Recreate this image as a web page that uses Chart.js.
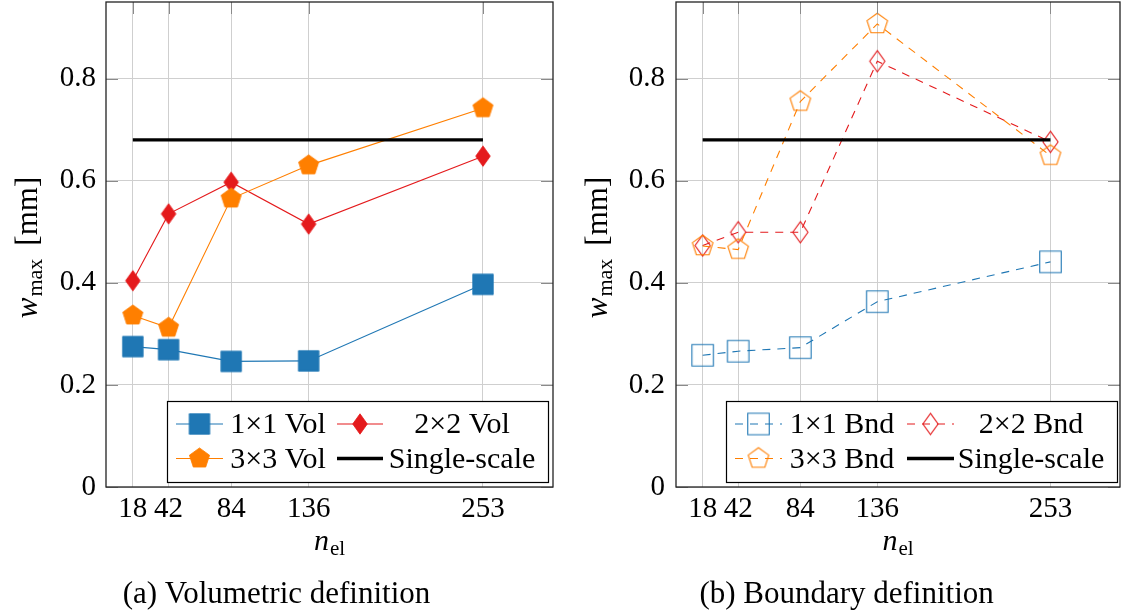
<!DOCTYPE html>
<html><head><meta charset="utf-8">
<script src="https://cdn.jsdelivr.net/npm/chart.js@4.4.1/dist/chart.umd.min.js"></script>
<style>
html,body{margin:0;padding:0;background:#fff;}
#wrap{position:relative;width:1121px;height:615px;overflow:hidden;background:#fff;}
canvas{position:absolute;top:0;}
</style></head><body>
<div id="wrap">
<canvas id="c1" width="560" height="615" style="left:0"></canvas>
<canvas id="c2" width="561" height="615" style="left:560px"></canvas>
</div>
<script>
// ---- data ----
const nEl = [18, 42, 84, 136, 253];
const xTicks = [18, 42, 84, 136, 253];
const xTickLabels = ['18', '42', '84', '136', '253'];
const yTicks = [0, 0.2, 0.4, 0.6, 0.8];
const yTickLabels = ['0', '0.2', '0.4', '0.6', '0.8'];
const vol1x1 = [0.275, 0.269, 0.246, 0.247, 0.397];
const vol2x2 = [0.404, 0.535, 0.597, 0.515, 0.648];
const vol3x3 = [0.336, 0.312, 0.565, 0.630, 0.742];
const bnd1x1 = [0.258, 0.266, 0.273, 0.363, 0.441];
const bnd2x2 = [0.473, 0.499, 0.499, 0.834, 0.676];
const bnd3x3 = [0.472, 0.465, 0.755, 0.907, 0.649];
const singleX = [18, 253];
const singleScale = [0.680, 0.680];

// ---- styles ----
const BLUE = '#1f77b4', RED = '#e41a1c', ORANGE = '#ff7f00';
const FONT = '"Liberation Serif", "Times New Roman", serif';
const toXY = (xs, ys) => xs.map((x, i) => ({x: x, y: ys[i]}));

function mk(w, h, draw) {
  const c = document.createElement('canvas');
  c.width = w; c.height = h;
  draw(c.getContext('2d'), w / 2, h / 2);
  return c;
}
function square(side, fill, stroke, lw) {
  const s = Math.ceil(side + lw + 2);
  return mk(s, s, (g, cx, cy) => {
    g.beginPath(); g.rect(cx - side / 2, cy - side / 2, side, side);
    if (fill) { g.fillStyle = fill; g.fill(); }
    g.lineWidth = lw; g.strokeStyle = stroke; g.stroke();
  });
}
function diamond(a, b, fill, stroke, lw) {
  const w = Math.ceil(2 * a + lw + 2), h = Math.ceil(2 * b + lw + 2);
  return mk(w, h, (g, cx, cy) => {
    g.beginPath(); g.moveTo(cx, cy - b); g.lineTo(cx + a, cy); g.lineTo(cx, cy + b); g.lineTo(cx - a, cy); g.closePath();
    if (fill) { g.fillStyle = fill; g.fill(); }
    g.lineWidth = lw; g.strokeStyle = stroke; g.lineJoin = 'miter'; g.stroke();
  });
}
function pentagon(R, fill, stroke, lw) {
  const s = Math.ceil(2 * R + lw + 3);
  return mk(s, s, (g, cx, cy) => {
    g.beginPath();
    for (let k = 0; k < 5; k++) {
      const t = -Math.PI / 2 + k * 2 * Math.PI / 5;
      const px = cx + R * Math.cos(t), py = cy + R * Math.sin(t);
      if (k === 0) g.moveTo(px, py); else g.lineTo(px, py);
    }
    g.closePath();
    if (fill) { g.fillStyle = fill; g.fill(); }
    g.lineWidth = lw; g.strokeStyle = stroke; g.stroke();
  });
}

const mSqF = square(20.5, BLUE, BLUE, 0.8);
const mDiF = diamond(7.3, 10.2, RED, RED, 0.8);
const mPeF = pentagon(10.6, ORANGE, ORANGE, 0.8);
const mSqO = square(21.5, null, BLUE, 1.1);
const mDiO = diamond(7.6, 10.6, null, RED, 1.1);
const mPeO = pentagon(10.8, null, ORANGE, 1.1);

function ds(label, data, color, marker, dash, order) {
  return {label, data, borderColor: color, backgroundColor: color, borderWidth: 1.1,
    borderDash: dash, pointStyle: marker, pointRadius: 10, pointHoverRadius: 10,
    tension: 0, fill: false, order: order, clip: false};
}
function singleDs(order) {
  return {label: 'Single-scale', data: toXY(singleX, singleScale), borderColor: '#000',
    borderWidth: 3.4, pointRadius: 0, tension: 0, fill: false, order: order};
}

function drawSubText(ctx, x, y, main, sub, rest, size) {
  // centred at x, baseline y
  const fMain = 'italic ' + size + 'px ' + FONT, fSub = Math.round(size * 0.7) + 'px ' + FONT, fRest = size + 'px ' + FONT;
  ctx.font = fMain; const w1 = ctx.measureText(main).width;
  ctx.font = fSub; const w2 = ctx.measureText(sub).width;
  ctx.font = fRest; const w3 = rest ? ctx.measureText(rest).width : 0;
  const gap = rest ? 13 : 0;
  let cx = x - (w1 + 1 + w2 + gap + w3) / 2;
  ctx.textAlign = 'left'; ctx.textBaseline = 'alphabetic'; ctx.fillStyle = '#000';
  ctx.font = fMain; ctx.fillText(main, cx, y); cx += w1 + 1;
  ctx.font = fSub; ctx.fillText(sub, cx, y + 5); cx += w2 + gap;
  if (rest) { ctx.font = fRest; ctx.fillText(rest, cx, y); }
}

function makeChart(id, datasets, cfg) {
  const decor = {
    id: 'decor',
    afterDatasetsDraw(chart) {
      const ctx = chart.ctx, a = chart.chartArea;
      const xs = chart.scales.x, ys = chart.scales.y;
      ctx.save();
      // tick marks (inward)
      ctx.strokeStyle = '#8a8a8a'; ctx.lineWidth = 1;
      yTicks.forEach(v => {
        const py = Math.round(ys.getPixelForValue(v)) + 0.5;
        ctx.beginPath(); ctx.moveTo(a.left, py); ctx.lineTo(a.left + 12, py);
        ctx.moveTo(a.right, py); ctx.lineTo(a.right - 12, py); ctx.stroke();
      });
      xTicks.forEach(v => {
        const px = Math.round(xs.getPixelForValue(v)) + 0.5;
        ctx.beginPath(); ctx.moveTo(px, a.top); ctx.lineTo(px, a.top + 12); ctx.stroke();
      });
      // axis box
      ctx.strokeStyle = '#222'; ctx.lineWidth = 1.3;
      ctx.strokeRect(a.left, a.top, a.right - a.left, a.bottom - a.top);
      // legend
      const L = cfg.legend;
      ctx.fillStyle = '#fff'; ctx.fillRect(L.box[0], L.box[1], L.box[2] - L.box[0], L.box[3] - L.box[1]);
      ctx.strokeStyle = '#000'; ctx.lineWidth = 1.2;
      ctx.strokeRect(L.box[0] + 0.5, L.box[1] + 0.5, L.box[2] - L.box[0], L.box[3] - L.box[1]);
      L.items.forEach(it => {
        const d = chart.data.datasets[it.ds];
        ctx.save();
        ctx.strokeStyle = d.borderColor; ctx.lineWidth = d.borderWidth;
        ctx.setLineDash(d.borderDash || []);
        ctx.beginPath(); ctx.moveTo(it.l0, it.y); ctx.lineTo(it.l1, it.y); ctx.stroke();
        ctx.restore();
        if (d.pointRadius > 0 && d.pointStyle && typeof d.pointStyle === 'object') {
          const m = d.pointStyle;
          ctx.drawImage(m, (it.l0 + it.l1) / 2 - m.width / 2, it.y - m.height / 2);
        }
        ctx.fillStyle = '#000'; ctx.font = '30px ' + FONT;
        ctx.textAlign = 'center'; ctx.textBaseline = 'alphabetic';
        ctx.fillText(d.label, it.tx, it.tb);
      });
      ctx.restore();
    },
    afterDraw(chart) {
      const ctx = chart.ctx, a = chart.chartArea;
      ctx.save();
      // y title
      ctx.translate(cfg.yTitleX, (a.top + a.bottom) / 2 + 3);
      ctx.rotate(-Math.PI / 2);
      drawSubText(ctx, 0, 0, 'w', 'max', '[mm]', 31);
      ctx.restore();
      ctx.save();
      drawSubText(ctx, (a.left + a.right) / 2, 550, 'n', 'el', '', 30);
      ctx.fillStyle = '#000'; ctx.font = '31px ' + FONT; ctx.textAlign = 'center'; ctx.textBaseline = 'alphabetic';
      ctx.fillText(cfg.caption, cfg.captionX, 603);
      ctx.restore();
    }
  };
  const tickFont = {family: FONT, size: 29};
  return new Chart(document.getElementById(id), {
    type: 'line',
    data: {datasets},
    options: {
      responsive: false, maintainAspectRatio: false, animation: false, events: [],
      layout: {autoPadding: false, padding: {top: 2, right: cfg.padRight, left: 0, bottom: 0}},
      plugins: {legend: {display: false}, tooltip: {enabled: false}, title: {display: false}},
      scales: {
        x: {
          type: 'linear', min: 0, max: 300,
          afterBuildTicks: s => { s.ticks = xTicks.map(v => ({value: v})); },
          ticks: {font: tickFont, color: '#000', padding: 5, autoSkip: false, maxRotation: 0,
            callback: (v, i) => xTickLabels[i]},
          grid: {color: '#cfcfcf', lineWidth: 1, drawTicks: false},
          border: {display: false},
          afterFit: s => { s.height = 128; s.paddingLeft = 0; s.paddingRight = 0; s.paddingTop = 0; s.paddingBottom = 0; }
        },
        y: {
          type: 'linear', min: 0, max: 0.95,
          afterBuildTicks: s => { s.ticks = yTicks.map(v => ({value: v})); },
          ticks: {font: tickFont, color: '#000', padding: cfg.yPad, autoSkip: false,
            callback: (v, i) => yTickLabels[i]},
          grid: {color: '#cfcfcf', lineWidth: 1, drawTicks: false},
          border: {display: false},
          afterFit: s => { s.width = cfg.yWidth; s.paddingLeft = 0; s.paddingRight = 0; s.paddingTop = 0; s.paddingBottom = 0; }
        }
      }
    },
    plugins: [decor]
  });
}

function build() {
  makeChart('c1', [
    ds('1×1 Vol', toXY(nEl, vol1x1), BLUE, mSqF, [], 4),
    ds('2×2 Vol', toXY(nEl, vol2x2), RED, mDiF, [], 3),
    ds('3×3 Vol', toXY(nEl, vol3x3), ORANGE, mPeF, [], 2),
    singleDs(1)
  ], {
    yWidth: 106, padRight: 7, yPad: 10, yTitleX: 37, caption: '(a) Volumetric definition', captionX: 276.5,
    legend: {box: [167, 401, 548, 482], items: [
      {ds: 0, l0: 176, l1: 223, y: 424, tx: 278, tb: 433},
      {ds: 1, l0: 337, l1: 383, y: 424, tx: 462, tb: 433},
      {ds: 2, l0: 176, l1: 223, y: 458.5, tx: 278, tb: 467.5},
      {ds: 3, l0: 337, l1: 383, y: 458.5, tx: 462, tb: 467.5}
    ]}
  });
  makeChart('c2', [
    ds('1×1 Bnd', toXY(nEl, bnd1x1), BLUE, mSqO, [8, 7], 4),
    ds('2×2 Bnd', toXY(nEl, bnd2x2), RED, mDiO, [8, 7], 3),
    ds('3×3 Bnd', toXY(nEl, bnd3x3), ORANGE, mPeO, [8, 7], 2),
    singleDs(1)
  ], {
    yWidth: 116, padRight: 1, yPad: 11, yTitleX: 47, caption: '(b) Boundary definition', captionX: 286.6,
    legend: {box: [166, 401, 557, 482], items: [
      {ds: 0, l0: 175, l1: 222, y: 424, tx: 282, tb: 433},
      {ds: 1, l0: 347, l1: 394, y: 424, tx: 471, tb: 433},
      {ds: 2, l0: 175, l1: 222, y: 458.5, tx: 282, tb: 467.5},
      {ds: 3, l0: 347, l1: 394, y: 458.5, tx: 471, tb: 467.5}
    ]}
  });
}
if (document.fonts && document.fonts.load) {
  Promise.all([document.fonts.load('28px "Liberation Serif"'), document.fonts.load('italic 28px "Liberation Serif"')])
    .then(build, build);
} else build();
</script>
</body></html>
